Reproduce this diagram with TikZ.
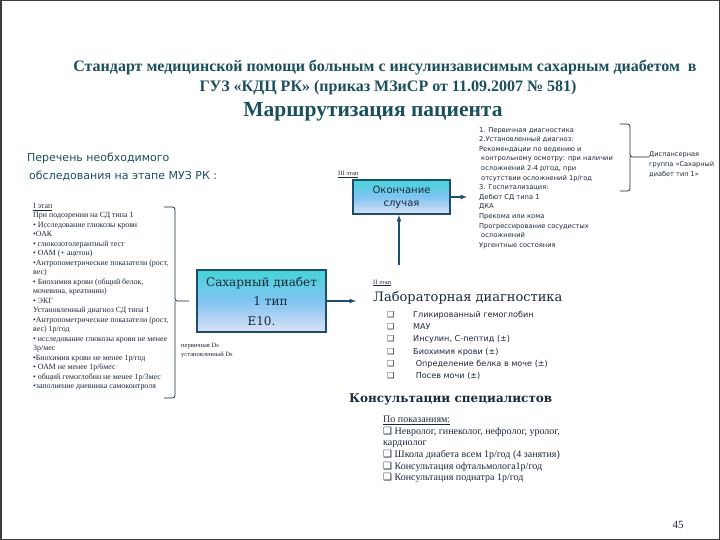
\documentclass[tikz,border=0pt]{standalone}
\usepackage{fontspec}
\setmainfont{Liberation Serif}
\newfontfamily\sansfont{DejaVu Sans}
\newfontfamily\seriffont{DejaVu Serif}
\usepackage{tikz}
\usetikzlibrary{arrows, positioning, calc}
\definecolor{TitleTeal}{RGB}{27, 79, 92}
\definecolor{BoxBorder}{RGB}{29, 78, 107}
\definecolor{InkDark}{RGB}{26, 40, 56}
\definecolor{GradTop}{RGB}{70, 212, 216}
\definecolor{GradMid}{RGB}{128, 196, 242}
\definecolor{GradBottom}{RGB}{220, 224, 244}
\definecolor{FrameGray}{RGB}{60, 60, 60}
\newcommand{\chk}{{\sansfont ❑}}

\begin{document}
\begin{tikzpicture}[x=1pt, y=-1pt,
        title/.style={text=TitleTeal, font=\bfseries\fontsize{16}{19}\selectfont, inner sep=0pt},
        stagebox/.style={rectangle, draw=BoxBorder, line width=2pt, top color=GradTop, bottom color=GradBottom, middle color=GradMid, align=center, text=InkDark},
        small/.style={text=InkDark, align=left, inner sep=0pt, anchor=north west},
        stagelbl/.style={text=InkDark, font=\fontsize{6.5}{8}\selectfont, inner sep=0pt},
        flow/.style={->, >=latex, line width=1.2pt, BoxBorder},
        brace/.style={draw=InkDark, line width=0.8pt, rounded corners=2.5pt}
    ]
        \useasboundingbox (0,0) rectangle (720,540);
        \draw[FrameGray, line width=1.5pt] (0.75,0.75) rectangle (719.25,539.25);

        % Titles
        \node[title] (head1) at (385,68) {Стандарт медицинской помощи больным с инсулинзависимым сахарным диабетом~ в};
        \node[title] (head2) at (388,88) {ГУЗ «КДЦ РК» (приказ МЗиСР от 11.09.2007 № 581)};
        \node[title, font=\bfseries\fontsize{21.5}{25}\selectfont] (route) at (373,112) {Маршрутизация пациента};

        % Stage I
        \node[small, text=TitleTeal, font=\sansfont\fontsize{11}{18}\selectfont] (need) at (27,153) {Перечень необходимого\\\hspace*{2pt}обследования на этапе МУЗ РК :};
        \node[small, font=\fontsize{7.9}{9.5}\selectfont] (stage1) at (33,203) {\underline{I этап}\\
            При подозрении на СД типа 1\\
            • Исследование глюкозы крови\\
            •ОАК\\
            • глюкозотолерантный тест\\
            • ОАМ (+ ацетон)\\
            •Антропометрические показатели (рост,\\
            вес)\\
            • Биохимия крови (общий белок,\\
            мочевина, креатинин)\\
            • ЭКГ\\
            Установленный диагноз СД типа 1\\
            •Антропометрические показатели (рост,\\
            вес) 1р/год\\
            • исследование глюкозы крови не менее\\
            3р/мес\\
            •Биохимия крови не менее 1р/год\\
            • ОАМ не менее 1р/6мес\\
            • общий гемоглобин не менее 1р/3мес\\
            •заполнение дневника самоконтроля};
        \node[stagebox, minimum width=129pt, minimum height=62pt, font=\seriffont\fontsize{12}{19.5}\selectfont] (diab) at (261.5,301) {Сахарный диабет\\\hspace*{1.5em}1 тип\\E10.};
        \node[small, font=\fontsize{6.5}{9.5}\selectfont] (dslbl) at (181,343) {первичная Ds\\установленный Ds};
        \draw[brace] (164,207) -- (175,207) -- (175,301) -- ($(diab.west)+(-7,0)$)
            (175,301) -- (175,398) -- (164,398);

        % Stage III
        \node[stagebox, minimum width=97pt, minimum height=34pt, font=\sansfont\fontsize{10}{13}\selectfont] (endc) at (401.5,197) {Окончание\\случая};
        \node[stagelbl, above=1pt of endc.north west, anchor=south west, xshift=-14pt] (stage3) {\underline{III этап}};
        \node[small, font=\sansfont\fontsize{6.7}{9.6}\selectfont] (outcome) at (479,127) {1. Первичная диагностика\\
            2.Установленный диагноз:\\
            Рекомендации по ведению и\\
            \hspace*{2pt}контрольному осмотру: при наличии\\
            \hspace*{2pt}осложнений 2-4 р/год, при\\
            \hspace*{2pt}отсутствии осложнений 1р/год\\
            3. Госпитализация:\\
            Дебют СД типа 1\\
            ДКА\\
            Прекома или кома\\
            Прогрессирование сосудистых\\
            \hspace*{2pt}осложнений\\
            Ургентные состояния};
        \node[small, font=\sansfont\fontsize{6.6}{10}\selectfont] (group) at (649,151) {Диспансерная\\группа «Сахарный\\диабет тип 1»};
        \draw[brace] (620,124) -- (630,124) -- (630,157) -- (group.west |- 0,157)
            (630,157) -- (630,191) -- (620,191);

        % Stage II
        \node[stagelbl, anchor=west] (stage2) at (373,283) {\underline{II этап}};
        \node[small, anchor=west, font=\seriffont\fontsize{13}{15}\selectfont] (lab) at (373,298) {Лабораторная диагностика};
        \node[small, font=\sansfont\fontsize{8.1}{12.2}\selectfont] (labtests) at (387,311) {\makebox[26pt][l]{❑}Гликированный гемоглобин\\
            \makebox[26pt][l]{❑}МАУ\\
            \makebox[26pt][l]{❑}Инсулин, С-пептид (±)\\
            \makebox[26pt][l]{❑}Биохимия крови (±)\\
            \makebox[26pt][l]{❑} Определение белка в моче (±)\\
            \makebox[26pt][l]{❑} Посев мочи (±)};
        \node[small, anchor=west, font=\seriffont\bfseries\fontsize{12}{15}\selectfont] (consult) at (349,399) {Консультации специалистов};
        \node[small, font=\fontsize{10}{11.6}\selectfont] (consultlist) at (383,416) {\underline{По показаниям:}\\
            \chk{} Невролог, гинеколог, нефролог, уролог,\\
            кардиолог\\
            \chk{} Школа диабета всем 1р/год (4 занятия)\\
            \chk{} Консультация офтальмолога1р/год\\
            \chk{} Консультация подиатра 1р/год};
        \node[text=InkDark, font=\fontsize{11}{13}\selectfont] (pagenum) at (678,525) {45};

        % Connections
        \coordinate (labin) at (356,301);
        \coordinate (labup) at (399,265);
        \coordinate (outc) at (467,197);
        \draw[flow] (diab) -- (labin);
        \draw[flow] (labup) -- (labup |- endc.south);
        \draw[flow] (endc) -- (outc);
    \end{tikzpicture}
\end{document}
